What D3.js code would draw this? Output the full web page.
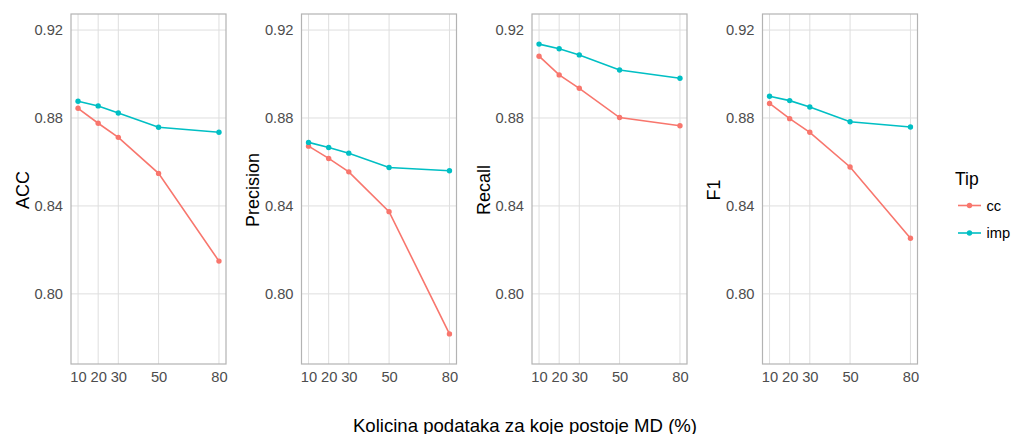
<!DOCTYPE html>
<html>
<head>
<meta charset="utf-8">
<script src="https://cdn.jsdelivr.net/npm/d3@7"></script>
<style>
  body { margin: 0; background: #fff; }
  svg { display: block; font-family: "Liberation Sans", Arial, sans-serif; }
</style>
</head>
<body>
<svg id="chart" width="1011" height="434"></svg>
<script>
// x values (% of data with missing values)
const xValues = [10, 20, 30, 50, 80];
const xTicks = [10, 20, 30, 50, 80];
const yTicks = [0.80, 0.84, 0.88, 0.92];

const metrics = ["ACC", "Precision", "Recall", "F1"];
const types = ["cc", "imp"];
const colors = ["#F8766D", "#00BFC4"];

// values
const accCC = [0.8844, 0.8776, 0.8712, 0.8548, 0.8149];
const accImp = [0.8876, 0.8855, 0.8823, 0.8758, 0.8735];
const precCC = [0.8672, 0.8616, 0.8555, 0.8374, 0.7818];
const precImp = [0.8689, 0.8666, 0.8640, 0.8575, 0.8560];
const recCC = [0.9081, 0.8996, 0.8935, 0.8802, 0.8765];
const recImp = [0.9136, 0.9115, 0.9087, 0.9018, 0.8981];
const f1CC = [0.8866, 0.8797, 0.8735, 0.8577, 0.8253];
const f1Imp = [0.8899, 0.8879, 0.8850, 0.8783, 0.8759];

const seriesByMetric = [
  [accCC, accImp],
  [precCC, precImp],
  [recCC, recImp],
  [f1CC, f1Imp]
];

const svg = d3.select("#chart");

const panelLefts = [71, 301.5, 532, 762.5];
const panelW = 155;
const panelTop = 14, panelBottom = 364;
const panelH = panelBottom - panelTop;

const x = d3.scaleLinear().domain([6.5, 83.5]).range([0, panelW]);
const y = d3.scaleLinear().domain([0.7681, 0.9273]).range([panelH, 0]);

const line = d3.line()
  .x((d, i) => x(xValues[i]))
  .y(d => y(d));

metrics.forEach((m, pi) => {
  const g = svg.append("g")
    .attr("transform", `translate(${panelLefts[pi]},${panelTop})`);

  // grid
  g.selectAll(".gy").data(yTicks).join("line")
    .attr("x1", 0).attr("x2", panelW)
    .attr("y1", d => y(d)).attr("y2", d => y(d))
    .attr("stroke", "#dedede").attr("stroke-width", 1);
  g.selectAll(".gx").data(xTicks).join("line")
    .attr("y1", 0).attr("y2", panelH)
    .attr("x1", d => x(d)).attr("x2", d => x(d))
    .attr("stroke", "#dedede").attr("stroke-width", 1);

  // series
  seriesByMetric[pi].forEach((vals, si) => {
    g.append("path")
      .datum(vals)
      .attr("d", line)
      .attr("fill", "none")
      .attr("stroke", colors[si])
      .attr("stroke-width", 1.6);
    g.selectAll(".pt" + si).data(vals).join("circle")
      .attr("cx", (d, i) => x(xValues[i]))
      .attr("cy", d => y(d))
      .attr("r", 2.7)
      .attr("fill", colors[si]);
  });

  // border
  g.append("rect")
    .attr("x", 0).attr("y", 0)
    .attr("width", panelW).attr("height", panelH)
    .attr("fill", "none")
    .attr("stroke", "#b3b3b3").attr("stroke-width", 1.2);

  // axes (labels only, no tick marks)
  const yAxis = d3.axisLeft(y).tickValues(yTicks).tickSize(0).tickPadding(8)
    .tickFormat(d3.format(".2f"));
  g.append("g").call(yAxis)
    .call(a => a.select(".domain").remove())
    .selectAll("text")
    .attr("font-size", 14.7).attr("fill", "#4d4d4d")
    .attr("font-family", "Liberation Sans, Arial, sans-serif");

  const xAxis = d3.axisBottom(x).tickValues(xTicks).tickSize(0).tickPadding(8);
  g.append("g")
    .attr("transform", `translate(0,${panelH})`)
    .call(xAxis)
    .call(a => a.select(".domain").remove())
    .selectAll("text")
    .attr("font-size", 14.7).attr("fill", "#4d4d4d")
    .attr("font-family", "Liberation Sans, Arial, sans-serif");

  // y title
  g.append("text")
    .attr("transform", `translate(-42.5,${panelH / 2 + 1}) rotate(-90)`)
    .attr("text-anchor", "middle")
    .attr("font-size", 18)
    .attr("fill", "#000")
    .text(m);
});

// x title
svg.append("text")
  .attr("x", 525).attr("y", 432)
  .attr("text-anchor", "middle")
  .attr("font-size", 18.6)
  .attr("fill", "#000")
  .text("Kolicina podataka za koje postoje MD (%)");

// legend
const legend = svg.append("g").attr("transform", "translate(955,0)");
legend.append("text")
  .attr("x", 0).attr("y", 184.5)
  .attr("font-size", 17.5)
  .text("Tip");
types.forEach((t, i) => {
  const ly = 205.5 + i * 27.5;
  legend.append("line")
    .attr("x1", 3).attr("x2", 26)
    .attr("y1", ly).attr("y2", ly)
    .attr("stroke", colors[i]).attr("stroke-width", 1.6);
  legend.append("circle")
    .attr("cx", 14.5).attr("cy", ly).attr("r", 2.7)
    .attr("fill", colors[i]);
  legend.append("text")
    .attr("x", 31.5).attr("y", ly + 5)
    .attr("font-size", 14.7)
    .attr("fill", "#000")
    .text(t);
});
</script>
</body>
</html>
